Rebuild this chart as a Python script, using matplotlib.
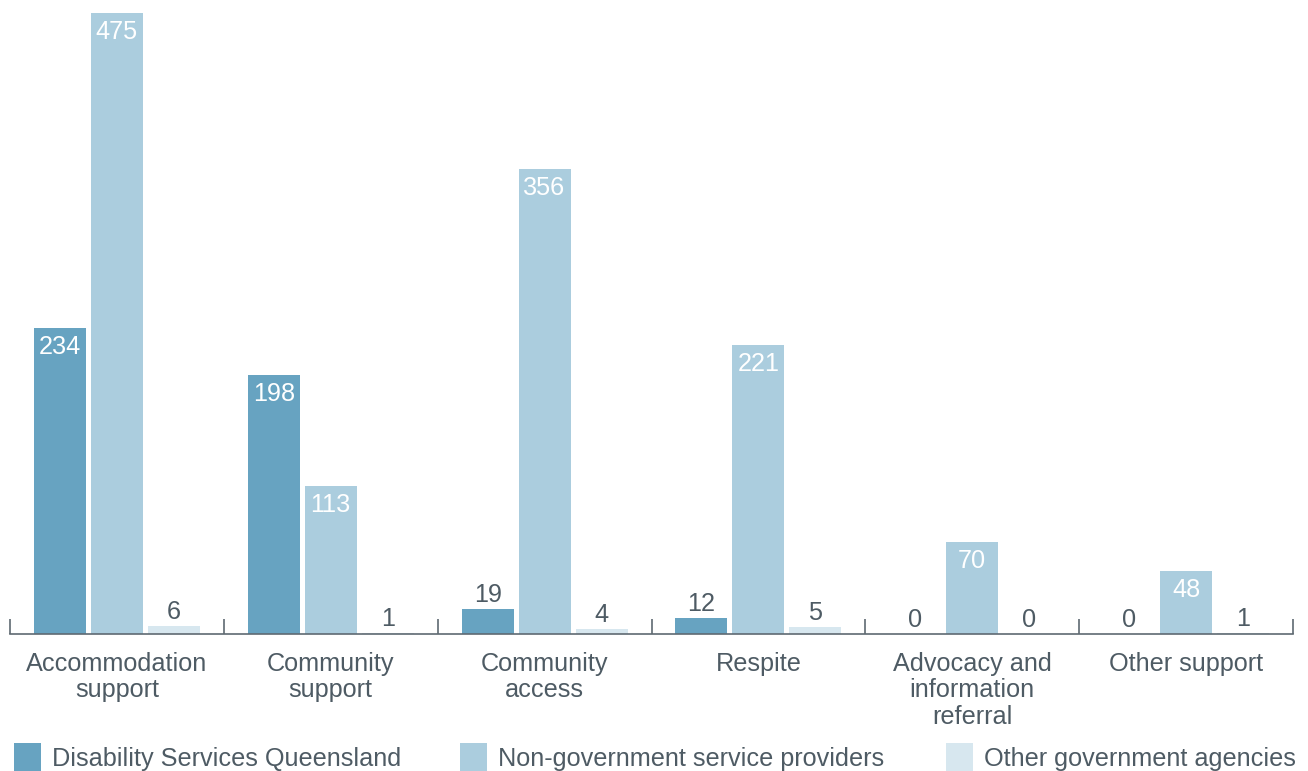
import numpy as np
import matplotlib
matplotlib.use("Agg")
import matplotlib.pyplot as plt
from matplotlib.patches import Rectangle

categories = ["Accommodation\nsupport", "Community\nsupport", "Community\naccess",
              "Respite", "Advocacy and\ninformation\nreferral", "Other support"]
series_names = ["Disability Services Queensland", "Non-government service providers",
                "Other government agencies"]
dsq = [234, 198, 19, 12, 0, 0]
ngo = [475, 113, 356, 221, 70, 48]
oga = [6, 1, 4, 5, 0, 1]

colors = ["#67a3c1", "#abcdde", "#d7e7ef"]
text_color = "#4e5b64"
axis_color = "#5f6a72"

plt.rcParams["font.family"] = ["Liberation Sans", "DejaVu Sans"]

W, H = 1308, 771
fig = plt.figure(figsize=(W / 100, H / 100), dpi=100)
ax = fig.add_axes([10 / W, 137 / H, 1283 / W, 621 / H])

n = len(categories)
x = np.arange(n)
bw = 52 / 214
step = 57 / 214
fs = 18.2

for i, (vals, col) in enumerate(zip([dsq, ngo, oga], colors)):
    xs = x + 0.5 + (i - 1) * step
    ax.bar(xs, vals, width=bw, color=col, linewidth=0)
    for xi, v in zip(xs, vals):
        if v >= 30:
            ax.annotate(str(v), (xi, v), xytext=(0, -19 * 0.72), textcoords="offset points",
                        ha="center", va="center", color="white", fontsize=fs)
        else:
            ax.annotate(str(v), (xi, v), xytext=(0, 14 * 0.72), textcoords="offset points",
                        ha="center", va="center", color=text_color, fontsize=fs)

ax.set_xlim(0, n)
ax.set_ylim(0, 475)
ax.set_yticks([])
for s in ["top", "right", "left"]:
    ax.spines[s].set_visible(False)
ax.spines["bottom"].set_color(axis_color)
ax.spines["bottom"].set_linewidth(1.2)

ax.set_xticks(np.arange(n + 1))
ax.set_xticklabels([])
ax.tick_params(axis="x", which="major", direction="in", length=11, width=1.2, color=axis_color)
ax.set_xticks(x + 0.5, minor=True)
ax.set_xticklabels(categories, minor=True, fontsize=fs, color=text_color, linespacing=1.12)
ax.tick_params(axis="x", which="minor", length=0, pad=13)

# legend
leg_x = [14, 460, 946]
for lx, name, col in zip(leg_x, series_names, colors):
    fig.add_artist(Rectangle((lx / W, (H - 773) / H), 27 / W, 30 / H,
                             transform=fig.transFigure, color=col, linewidth=0))
    fig.text((lx + 38) / W, (H - 759) / H, name, fontsize=fs, color=text_color,
             ha="left", va="center")

fig.savefig("out.png", dpi=100)
